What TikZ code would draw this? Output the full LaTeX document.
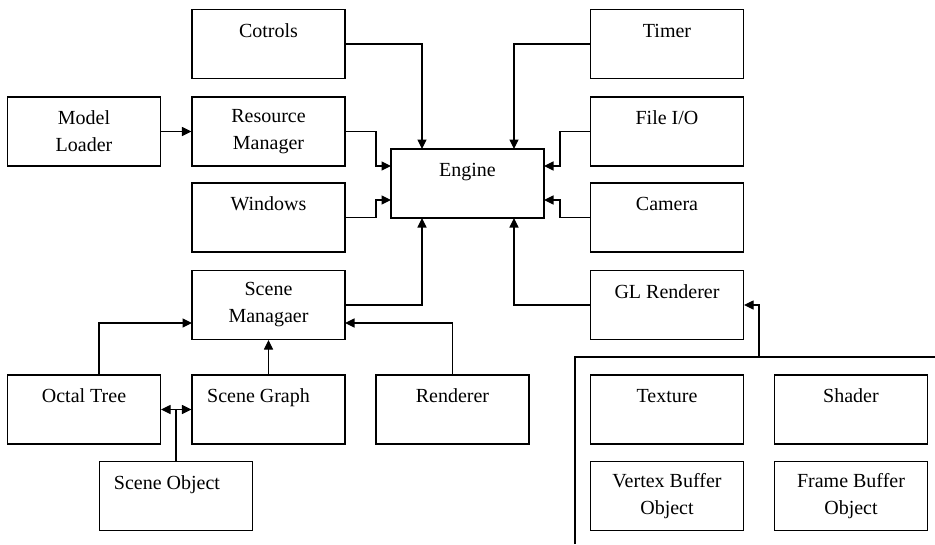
\documentclass[tikz,border=0pt]{standalone}
\usepackage{fontspec}
\setmainfont{Liberation Serif}
\usetikzlibrary{arrows.meta,calc}
\begin{document}
\begin{tikzpicture}[x=1pt,y=-1pt,
  box/.style={draw,line width=1.1pt,minimum width=153pt,minimum height=69pt,inner sep=0pt,align=center,
    font=\fontsize{20}{27}\selectfont},
  conn/.style={line width=1.1pt},
  arr/.style={conn,-{Triangle[length=9.5pt,width=9pt]}},
  darr/.style={conn,{Triangle[length=9.5pt,width=9pt]}-{Triangle[length=9.5pt,width=9pt]}}]
\useasboundingbox[fill=white] (0,0) rectangle (935,544);
% nodes
\node[box] (cot) at (268.5,44) {Cotrols\\ \mbox{}};
\node[box] (ml)  at (84,131.5) {Model\\Loader};
\node[box] (res) at (268.5,131.5) {Resource\\Manager};
\node[box] (win) at (268.5,217.5) {Windows\\ \mbox{}};
\node[box] (eng) at (467.5,183.5) {Engine\\ \mbox{}};
\node[box] (tim) at (667,44) {Timer\\ \mbox{}};
\node[box] (fio) at (667,131.5) {File I/O\\ \mbox{}};
\node[box] (cam) at (667,217.5) {Camera\\ \mbox{}};
\node[box] (scm) at (268.5,305) {Scene\\Managaer};
\node[box] (glr) at (667,305) {GL Renderer\\ \mbox{}};
\node[box] (oct) at (84,409.5) {Octal Tree\\ \mbox{}};
\node[box] (scg) at (268.5,409.5) {\hspace*{-20pt}Scene Graph\\ \mbox{}};
\node[box] (ren) at (452.5,409.5) {Renderer\\ \mbox{}};
\node[box] (sob) at (176,496) {\hspace*{-18pt}Scene Object\\ \mbox{}};
\node[box] (tex) at (667,409.5) {Texture\\ \mbox{}};
\node[box] (sha) at (851,409.5) {Shader\\ \mbox{}};
\node[box] (vbo) at (667,496) {Vertex Buffer\\Object};
\node[box] (fbo) at (851,496) {Frame Buffer\\Object};
% coordinates
\coordinate (engTL) at (422,149);
\coordinate (engTR) at (514,149);
\coordinate (engBL) at (422,218);
\coordinate (engBR) at (514,218);
\coordinate (engL1) at (391,166);
\coordinate (engL2) at (391,200);
\coordinate (engR1) at (544,166);
\coordinate (engR2) at (544,200);
\coordinate (scmL) at (192,323);
\coordinate (scmR) at (345,323);
\coordinate (octT) at (99,375);
\coordinate (sobJ) at (176,409.5);
\coordinate (contBL) at (575,544);
\coordinate (contTL) at (575,357);
\coordinate (contTR) at (935,357);
\coordinate (contT) at (759,357);
% container
\draw[conn] (contBL) -- (contTL) -- (contTR);
% connectors
\draw[arr] (cot.east) -| (engTL);
\draw[arr] (tim.west) -| (engTR);
\draw[arr] (res.east) -| ($(engL1)+(-15,0)$) -- (engL1);
\draw[arr] (win.east) -| ($(engL2)+(-15,0)$) -- (engL2);
\draw[arr] (fio.west) -| ($(engR1)+(16,0)$) -- (engR1);
\draw[arr] (cam.west) -| ($(engR2)+(16,0)$) -- (engR2);
\draw[arr] (scm.east) -| (engBL);
\draw[arr] (glr.west) -| (engBR);
\draw[arr] (ml.east) -- (res.west);
\draw[arr] (octT) |- (scmL);
\draw[arr] (scg.north) -- (scm.south);
\draw[arr] (ren.north) |- (scmR);
\draw[darr] (oct.east) -- (scg.west);
\draw[conn] (sob.north) -- (sobJ);
\draw[arr] (contT) |- (glr.east);
\end{tikzpicture}
\end{document}
